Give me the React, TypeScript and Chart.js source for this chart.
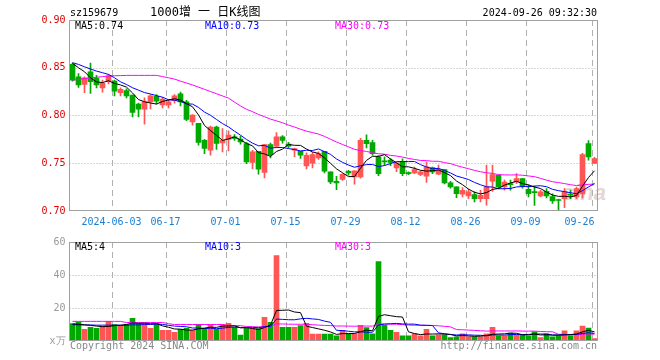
import React, { useEffect, useRef } from 'react';
import { Chart, registerables } from 'chart.js';

Chart.register(...registerables);

// ---------- data ----------
const dates: string[] = [
  '2024-05-23', '2024-05-24', '2024-05-27', '2024-05-28', '2024-05-29', '2024-05-30', '2024-05-31',
  '2024-06-03', '2024-06-04', '2024-06-05', '2024-06-06', '2024-06-07',
  '2024-06-11', '2024-06-12', '2024-06-13', '2024-06-14',
  '2024-06-17', '2024-06-18', '2024-06-19', '2024-06-20', '2024-06-21',
  '2024-06-24', '2024-06-25', '2024-06-26', '2024-06-27', '2024-06-28',
  '2024-07-01', '2024-07-02', '2024-07-03', '2024-07-04', '2024-07-05',
  '2024-07-08', '2024-07-09', '2024-07-10', '2024-07-11', '2024-07-12',
  '2024-07-15', '2024-07-16', '2024-07-17', '2024-07-18', '2024-07-19',
  '2024-07-22', '2024-07-23', '2024-07-24', '2024-07-25', '2024-07-26',
  '2024-07-29', '2024-07-30', '2024-07-31', '2024-08-01', '2024-08-02',
  '2024-08-05', '2024-08-06', '2024-08-07', '2024-08-08', '2024-08-09',
  '2024-08-12', '2024-08-13', '2024-08-14', '2024-08-15', '2024-08-16',
  '2024-08-19', '2024-08-20', '2024-08-21', '2024-08-22', '2024-08-23',
  '2024-08-26', '2024-08-27', '2024-08-28', '2024-08-29', '2024-08-30',
  '2024-09-02', '2024-09-03', '2024-09-04', '2024-09-05', '2024-09-06',
  '2024-09-09', '2024-09-10', '2024-09-11', '2024-09-12', '2024-09-13',
  '2024-09-18', '2024-09-19', '2024-09-20', '2024-09-23', '2024-09-24',
  '2024-09-25', '2024-09-26',
];

const opens: number[] = [
  0.8535, 0.8405, 0.8326, 0.8458, 0.839, 0.829, 0.8353, 0.836, 0.8238, 0.826,
  0.8213, 0.812, 0.8067, 0.8143, 0.82, 0.811, 0.811, 0.8154, 0.8228, 0.8143,
  0.7934, 0.7917, 0.7741, 0.7636, 0.7878, 0.7713, 0.7749, 0.7776, 0.7752, 0.7707,
  0.7508, 0.7626, 0.7403, 0.7696, 0.768, 0.7776, 0.770, 0.7636, 0.7626, 0.7472,
  0.750, 0.7556, 0.7626, 0.741, 0.731, 0.733, 0.7415, 0.7357, 0.7357, 0.774,
  0.7717, 0.7567, 0.7525, 0.7532, 0.745, 0.7515, 0.7398, 0.740, 0.7382, 0.7364,
  0.7455, 0.7385, 0.7434, 0.7294, 0.7252, 0.7175, 0.7157, 0.7172, 0.713, 0.713,
  0.7312, 0.7374, 0.7252, 0.728, 0.7304, 0.734, 0.7228, 0.7198, 0.7157, 0.7207,
  0.715, 0.7115, 0.713, 0.7168, 0.7147, 0.718, 0.7707, 0.7497,
];
const highs: number[] = [
  0.855, 0.844, 0.8405, 0.855, 0.842, 0.837, 0.843, 0.837, 0.829, 0.828,
  0.8213, 0.813, 0.8185, 0.822, 0.822, 0.819, 0.817, 0.822, 0.8245, 0.816,
  0.801, 0.7917, 0.775, 0.789, 0.789, 0.7864, 0.784, 0.780, 0.7785, 0.772,
  0.7636, 0.7626, 0.7696, 0.771, 0.782, 0.779, 0.772, 0.766, 0.7626, 0.761,
  0.7615, 0.762, 0.7626, 0.741, 0.7364, 0.739, 0.7425, 0.742, 0.776, 0.7797,
  0.774, 0.758, 0.7567, 0.755, 0.7505, 0.7545, 0.741, 0.746, 0.742, 0.7516,
  0.746, 0.748, 0.7434, 0.731, 0.7252, 0.7245, 0.723, 0.720, 0.7217, 0.748,
  0.748, 0.738, 0.7325, 0.7325, 0.7392, 0.734, 0.7275, 0.726, 0.7218, 0.7235,
  0.718, 0.7125, 0.7235, 0.722, 0.725, 0.7605, 0.7737, 0.7563,
];
const lows: number[] = [
  0.836, 0.8295, 0.8238, 0.823, 0.829, 0.8245, 0.833, 0.8206, 0.8205, 0.8185,
  0.7986, 0.7985, 0.791, 0.807, 0.812, 0.808, 0.808, 0.813, 0.810, 0.7945,
  0.790, 0.769, 0.760, 0.7584, 0.7644, 0.7619, 0.763, 0.774, 0.770, 0.7495,
  0.744, 0.7385, 0.7346, 0.7555, 0.7665, 0.771, 0.766, 0.757, 0.755, 0.744,
  0.745, 0.754, 0.740, 0.7285, 0.7224, 0.732, 0.7375, 0.728, 0.7343, 0.766,
  0.7585, 0.737, 0.748, 0.7475, 0.7412, 0.737, 0.738, 0.739, 0.737, 0.730,
  0.739, 0.738, 0.7284, 0.724, 0.714, 0.7147, 0.713, 0.7095, 0.7095, 0.706,
  0.7205, 0.7235, 0.7217, 0.7217, 0.7287, 0.724, 0.7147, 0.7058, 0.7147, 0.7137,
  0.708, 0.7003, 0.7035, 0.713, 0.713, 0.7137, 0.7532, 0.7497,
];
const closes: number[] = [
  0.837, 0.832, 0.8395, 0.8353, 0.832, 0.8336, 0.8416, 0.8255, 0.8273, 0.8206,
  0.8032, 0.8067, 0.8143, 0.8206, 0.815, 0.8171, 0.8143, 0.8206, 0.8143, 0.796,
  0.8004, 0.7717, 0.7654, 0.7878, 0.7707, 0.7741, 0.7794, 0.776, 0.7724, 0.7514,
  0.7619, 0.7437, 0.7696, 0.759, 0.7776, 0.774, 0.768, 0.7654, 0.7584, 0.7584,
  0.7591, 0.7602, 0.7416, 0.7304, 0.7295, 0.7385, 0.740, 0.742, 0.7741, 0.7705,
  0.760, 0.7392, 0.7515, 0.751, 0.7505, 0.7392, 0.7392, 0.7434, 0.741, 0.7462,
  0.741, 0.7434, 0.7294, 0.7252, 0.7182, 0.7217, 0.720, 0.713, 0.7165, 0.7252,
  0.7382, 0.7252, 0.7304, 0.7277, 0.734, 0.7262, 0.7182, 0.7193, 0.720, 0.7157,
  0.7105, 0.711, 0.720, 0.7165, 0.7235, 0.759, 0.7566, 0.755,
];
// volume, x万
const volumes: number[] = [
  10.5, 11.5, 7.1, 8.3, 7.7, 8.9, 11.9, 9.9, 9.3, 9.9,
  13.7, 10.5, 10.5, 7.7, 10.5, 6.5, 6.5, 5.3, 7.1, 7.7,
  6.5, 10.1, 7.7, 9.9, 7.1, 10.1, 10.7, 8.3, 3.6, 7.7,
  7.7, 7.5, 14.3, 11.3, 51.7, 8.3, 8.3, 8.3, 9.3, 10.7,
  4.2, 4.2, 4.2, 4.2, 3.2, 6.5, 4.4, 4.4, 9.5, 8.1,
  4.4, 48.1, 9.5, 6.5, 5.3, 3.2, 3.2, 4.4, 3.2, 7.1,
  3.2, 3.8, 3.8, 2.0, 2.6, 4.4, 2.6, 2.6, 2.6, 4.4,
  8.3, 3.2, 3.2, 4.8, 3.8, 3.8, 3.2, 5.5, 2.0, 4.4,
  2.6, 3.2, 6.1, 3.2, 6.1, 9.1, 7.9, 1.4,
];

const ma5Head: number[] = [0.8546, 0.85, 0.8458, 0.8395];
const ma10Head: number[] = [0.8553, 0.8535, 0.851, 0.8487, 0.8465, 0.8448, 0.843, 0.8395, 0.8353];
const ma30Head: number[] = [
  0.837, 0.8378, 0.8386, 0.8393, 0.84, 0.8407, 0.8413, 0.8416, 0.8418, 0.842,
  0.842, 0.842, 0.842, 0.842, 0.842, 0.8408, 0.8395, 0.8381, 0.836, 0.834,
  0.832, 0.8297, 0.8274, 0.8251, 0.8228, 0.8205, 0.8182, 0.814, 0.81,
];
const volMa5Head: number[] = [10.3, 10.2, 9.8, 9.5];
const volMa10Head: number[] = [9.9, 9.8, 9.7, 9.7, 9.6, 9.6, 9.6, 9.6, 9.6];
const volMa30Head: number[] = [
  11.9, 11.9, 11.9, 11.9, 11.9, 11.9, 11.9, 11.9, 11.9, 11.2,
  11.2, 11.2, 11.2, 11.2, 11.2, 11.2, 10.5, 10.0, 10.0, 10.0,
  10.0, 10.0, 10.0, 10.0, 10.0, 10.0, 9.3, 9.3, 9.3,
];

const tickDates: string[] = [
  '2024-06-03', '2024-06-17', '2024-07-01', '2024-07-15', '2024-07-29',
  '2024-08-12', '2024-08-26', '2024-09-09', '2024-09-26',
];
const priceTicks: number[] = [0.7, 0.75, 0.8, 0.85, 0.9];
const volumeTicks: number[] = [0, 20, 40, 60];

// ---------- helpers ----------
const RED = '#ff5555';
const GREEN = '#00a800';
const GRID = '#b0b0b0';
const FRAME = '#a0a0a0';
const MONO = "'DejaVu Sans Mono', 'Liberation Mono', monospace";

function movingAverage(values: number[], n: number, head: number[]): number[] {
  return values.map((_, i) => {
    if (i < n - 1) return head[i];
    let s = 0;
    for (let k = i - n + 1; k <= i; k++) s += values[k];
    return s / n;
  });
}

const shownIdx = tickDates.map((d) => dates.indexOf(d));
const upColor = (i: number) => (closes[i] >= opens[i] ? RED : GREEN);

// dashed vertical / dotted horizontal grid drawn from the chart's own scales, then a solid frame
const gridFramePlugin = {
  id: 'gridFrame',
  beforeDatasetsDraw(chart: any) {
    const { ctx, chartArea: a, scales } = chart;
    const xs = scales.x;
    const ys = scales.y;
    const half = (xs.getPixelForValue(1) - xs.getPixelForValue(0)) / 2;
    ctx.save();
    ctx.strokeStyle = GRID;
    ctx.lineWidth = 1;
    // horizontal dotted
    ctx.setLineDash([1, 2]);
    ys.ticks.forEach((t: any) => {
      const y = Math.round(ys.getPixelForValue(t.value)) + 0.5;
      if (y <= a.top + 1 || y >= a.bottom - 1) return;
      ctx.beginPath();
      ctx.moveTo(a.left, y);
      ctx.lineTo(a.right, y);
      ctx.stroke();
    });
    // vertical dashed at the left edge of the labelled days
    ctx.setLineDash([6, 4]);
    shownIdx.forEach((i) => {
      const x = Math.ceil(xs.getPixelForValue(i) - half) + 0.5;
      ctx.beginPath();
      ctx.moveTo(x, a.top);
      ctx.lineTo(x, a.bottom);
      ctx.stroke();
    });
    ctx.restore();
  },
  afterDraw(chart: any) {
    const { ctx, chartArea: a } = chart;
    ctx.save();
    ctx.strokeStyle = FRAME;
    ctx.lineWidth = 1;
    ctx.setLineDash([]);
    const l = Math.floor(a.left) + 0.5;
    const t = Math.floor(a.top) + 0.5;
    const r = Math.floor(a.right) + 0.5;
    const b = Math.ceil(a.bottom) - 0.5;
    ctx.strokeRect(l, t, r - l, b - t);
    ctx.restore();
  },
};

function xScale(showLabels: boolean, height: number) {
  return {
    type: 'category',
    offset: true,
    grid: { display: false, drawTicks: false },
    border: { display: false },
    ticks: {
      display: showLabels,
      autoSkip: false,
      maxRotation: 0,
      minRotation: 0,
      labelOffset: -3,
      padding: 5,
      color: '#1a7fd4',
      font: { family: MONO, size: 10 },
      callback: (v: any) => {
        const i = shownIdx.indexOf(Number(v));
        if (i < 0) return '';
        if (i === 0) return dates[Number(v)];
        if (i === shownIdx.length - 1) return dates[Number(v)].slice(5) + '    ';
        return dates[Number(v)].slice(5);
      },
    },
    afterFit: (s: any) => {
      s.height = height;
    },
  };
}

export default function App() {
  const topRef = useRef<HTMLCanvasElement>(null);
  const botRef = useRef<HTMLCanvasElement>(null);

  useEffect(() => {
    const ma5 = movingAverage(closes, 5, ma5Head);
    const ma10 = movingAverage(closes, 10, ma10Head);
    const ma30 = movingAverage(closes, 30, ma30Head);
    const vma5 = movingAverage(volumes, 5, volMa5Head);
    const vma10 = movingAverage(volumes, 10, volMa10Head);
    const vma30 = movingAverage(volumes, 30, volMa30Head);
    const colors = dates.map((_, i) => upColor(i));

    const lineDs = (label: string, data: number[], color: string) => ({
      type: 'line' as const,
      label,
      data,
      borderColor: color,
      borderWidth: 1,
      pointRadius: 0,
      fill: false,
      tension: 0,
    });

    const top = new Chart(topRef.current as HTMLCanvasElement, {
      type: 'bar',
      data: {
        labels: dates,
        datasets: [
          lineDs('MA5', ma5, '#000000'),
          lineDs('MA10', ma10, '#0000ff'),
          lineDs('MA30', ma30, '#ff00ff'),
          {
            type: 'bar',
            label: 'body',
            data: opens.map((o, i) => [Math.min(o, closes[i]), Math.max(o, closes[i])]) as any,
            backgroundColor: colors,
            borderWidth: 0,
            barThickness: 5,
            grouped: false,
            minBarLength: 1,
          },
          {
            type: 'bar',
            label: 'wick',
            data: lows.map((l, i) => [l, highs[i]]) as any,
            backgroundColor: colors,
            borderWidth: 0,
            barThickness: 1,
            grouped: false,
            minBarLength: 1,
          },
        ] as any,
      },
      options: {
        responsive: false,
        animation: false,
        devicePixelRatio: 1,
        events: [],
        layout: { padding: { top: 20, right: 62.5, left: 0, bottom: 0 } },
        plugins: { legend: { display: false }, tooltip: { enabled: false } },
        scales: {
          x: xScale(true, 21) as any,
          y: {
            type: 'linear',
            min: 0.7,
            max: 0.9,
            afterBuildTicks: (s: any) => {
              s.ticks = priceTicks.map((v) => ({ value: v }));
            },
            grid: { display: false, drawTicks: false },
            border: { display: false },
            ticks: {
              padding: 4,
              color: '#e00000',
              font: { family: MONO, size: 10 },
              callback: (v: any) => Number(v).toFixed(2),
            },
            afterFit: (s: any) => {
              s.width = 69.5;
            },
          } as any,
        },
      },
      plugins: [gridFramePlugin],
    });

    const bot = new Chart(botRef.current as HTMLCanvasElement, {
      type: 'bar',
      data: {
        labels: dates,
        datasets: [
          lineDs('MA5', vma5, '#000000'),
          lineDs('MA10', vma10, '#0000ff'),
          lineDs('MA30', vma30, '#ff00ff'),
          {
            type: 'bar',
            label: 'volume',
            data: volumes,
            backgroundColor: colors,
            borderWidth: 0,
            barThickness: 5,
            grouped: false,
          },
        ] as any,
      },
      options: {
        responsive: false,
        animation: false,
        devicePixelRatio: 1,
        events: [],
        layout: { padding: { top: 8, right: 62.5, left: 0, bottom: 0 } },
        plugins: { legend: { display: false }, tooltip: { enabled: false } },
        scales: {
          x: xScale(false, 19) as any,
          y: {
            type: 'linear',
            min: 0,
            max: 60,
            afterBuildTicks: (s: any) => {
              s.ticks = volumeTicks.map((v) => ({ value: v }));
            },
            grid: { display: false, drawTicks: false },
            border: { display: false },
            ticks: {
              padding: 4,
              color: '#999999',
              font: { family: MONO, size: 10 },
              callback: (v: any) => (Number(v) === 0 ? 'x万' : String(v)),
            },
            afterFit: (s: any) => {
              s.width = 69.5;
            },
          } as any,
        },
      },
      plugins: [gridFramePlugin],
    });

    return () => {
      top.destroy();
      bot.destroy();
    };
  }, []);

  const txt = (extra: React.CSSProperties): React.CSSProperties => ({
    position: 'absolute',
    fontFamily: MONO,
    fontSize: 10,
    lineHeight: '12px',
    whiteSpace: 'pre',
    color: '#000',
    ...extra,
  });

  return (
    <div style={{ position: 'absolute', left: 0, top: 0, width: 660, height: 360, background: '#fff', overflow: 'hidden' }}>
      <div
        style={{
          position: 'absolute',
          left: 562,
          top: 181,
          fontFamily: "'Liberation Sans', Arial, sans-serif",
          fontWeight: 'bold',
          fontStyle: 'italic',
          fontSize: 22,
          lineHeight: '24px',
          color: '#e6d6d6',
        }}
      >
        sina
      </div>
      <canvas
        ref={topRef}
        width={660}
        height={232}
        style={{ position: 'absolute', left: 0, top: 0, width: 660, height: 232 }}
      />
      <canvas
        ref={botRef}
        width={660}
        height={128}
        style={{ position: 'absolute', left: 0, top: 232, width: 660, height: 128 }}
      />
      <div style={txt({ left: 70, top: 7 })}>sz159679</div>
      <div
        style={txt({
          left: 150,
          top: 5,
          fontSize: 12,
          lineHeight: '15px',
          fontFamily: "'DejaVu Sans Mono', 'Noto Sans CJK SC', monospace",
        })}
      >
        1000增 一 日K线图
      </div>
      <div style={txt({ right: 63, top: 7 })}>2024-09-26 09:32:30</div>

      <div style={txt({ left: 75, top: 20 })}>MA5:0.74</div>
      <div style={txt({ left: 205, top: 20, color: '#0000ff' })}>MA10:0.73</div>
      <div style={txt({ left: 335, top: 20, color: '#ff00ff' })}>MA30:0.73</div>

      <div style={txt({ left: 75, top: 241 })}>MA5:4</div>
      <div style={txt({ left: 205, top: 241, color: '#0000ff' })}>MA10:3</div>
      <div style={txt({ left: 335, top: 241, color: '#ff00ff' })}>MA30:3</div>

      <div style={txt({ left: 70, top: 340, color: '#888' })}>Copyright 2024 SINA.COM</div>
      <div style={txt({ right: 63, top: 340, color: '#888' })}>http://finance.sina.com.cn</div>
    </div>
  );
}
